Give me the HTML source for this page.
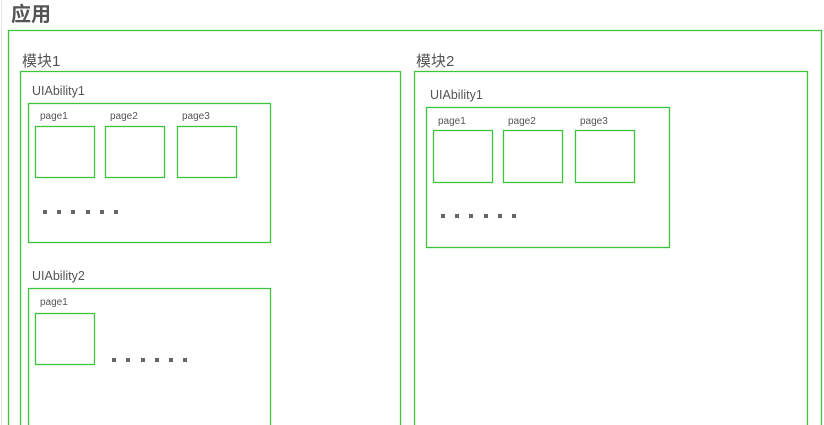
<!DOCTYPE html>
<html><head><meta charset="utf-8"><style>
html,body{margin:0;padding:0;background:#fff;width:824px;height:425px;overflow:hidden}
svg{display:block}
svg text{font-family:"Liberation Sans","Noto Sans CJK SC",sans-serif;fill:#555}
</style></head><body>
<svg width="824" height="425" xmlns="http://www.w3.org/2000/svg">
<line x1="1.5" y1="0" x2="1.5" y2="425" stroke="#e6e6e6" stroke-width="1"/>
<g fill="none" stroke="#3cc43c" stroke-width="1.3">
<path d="M8.5 425 V30.5 H821.5 V425"/>
<path d="M20.5 425 V71.5 H400.5 V425"/>
<path d="M414.5 425 V71.5 H807.5 V425"/>
<rect x="28.5" y="103.5" width="242" height="139"/>
<rect x="35.5" y="126.5" width="59" height="51"/>
<rect x="105.5" y="126.5" width="59" height="51"/>
<rect x="177.5" y="126.5" width="59" height="51"/>
<path d="M28.5 425 V288.5 H270.5 V425"/>
<rect x="35.5" y="313.5" width="59" height="51"/>
<rect x="426.5" y="107.5" width="243" height="140"/>
<rect x="433.5" y="130.5" width="59" height="52"/>
<rect x="503.5" y="130.5" width="59" height="52"/>
<rect x="575.5" y="130.5" width="59" height="52"/>
</g>
<text x="11" y="21" font-size="20" font-weight="bold">应用</text>
<text x="22" y="66" font-size="15">模块1</text>
<text x="416" y="66" font-size="15">模块2</text>
<text x="32" y="95" font-size="12.5">UIAbility1</text>
<text x="32" y="280" font-size="12.5">UIAbility2</text>
<text x="430" y="99" font-size="12.5">UIAbility1</text>
<g font-size="10">
<text x="40" y="119">page1</text><text x="110" y="119">page2</text><text x="182" y="119">page3</text>
<text x="40" y="305">page1</text>
<text x="438" y="124">page1</text><text x="508" y="124">page2</text><text x="580" y="124">page3</text>
</g>
<g fill="#666">
<rect x="43" y="210" width="4" height="4"/><rect x="57" y="210" width="4" height="4"/><rect x="71" y="210" width="4" height="4"/><rect x="86" y="210" width="4" height="4"/><rect x="100" y="210" width="4" height="4"/><rect x="114" y="210" width="4" height="4"/>
<rect x="112" y="358" width="4" height="4"/><rect x="126" y="358" width="4" height="4"/><rect x="141" y="358" width="4" height="4"/><rect x="155" y="358" width="4" height="4"/><rect x="169" y="358" width="4" height="4"/><rect x="183" y="358" width="4" height="4"/>
<rect x="441" y="214" width="4" height="4"/><rect x="455" y="214" width="4" height="4"/><rect x="469" y="214" width="4" height="4"/><rect x="484" y="214" width="4" height="4"/><rect x="498" y="214" width="4" height="4"/><rect x="512" y="214" width="4" height="4"/>
</g>
</svg>
</body></html>
